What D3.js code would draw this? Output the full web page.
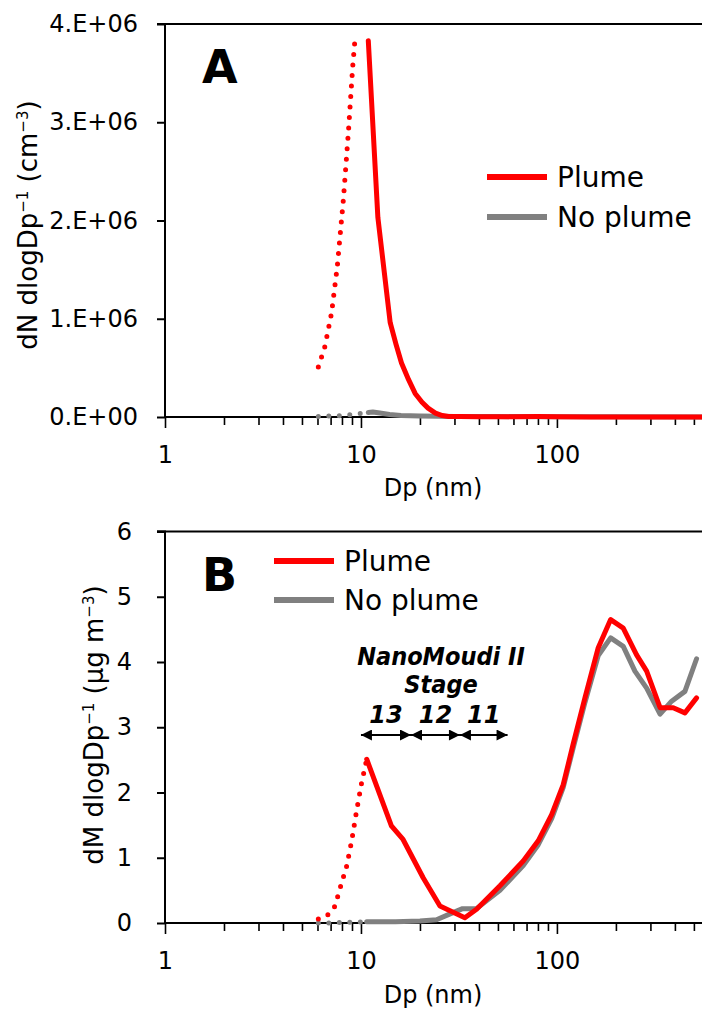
<!DOCTYPE html>
<html><head><meta charset="utf-8">
<script src="https://cdn.jsdelivr.net/npm/d3@7"></script>
<style>
html,body{margin:0;padding:0;background:#fff;}
svg{display:block;}
text{font-family:"DejaVu Sans",Verdana,sans-serif;fill:#000;}
</style></head>
<body>
<svg id="chart" width="702" height="1019"></svg>
<script>
// ---------- DATA ----------
// Panel A: number size distribution (dN/dlogDp, cm^-3)
const aPlumeDp   = [10.9, 12.2, 14.1, 15.1, 16.1, 17.5, 18.9, 20.5, 22.0, 24.0, 26.0, 28.0, 32, 40, 60, 80, 100, 150, 200, 300, 400, 550];
const aPlumeN    = [3.83e6, 2.03e6, 0.96e6, 0.74e6, 0.55e6, 0.38e6, 0.24e6, 0.15e6, 0.09e6, 0.04e6, 0.015e6, 0.006e6, 0.004e6, 0.003e6, 0.003e6, 0.004e6, 0.002e6, 0.001e6, 0.001e6, 0.0005e6, 0, 0];
const aPlumeExtDp = [6.06, 6.55, 7.08, 7.57, 8.13, 8.62, 9.07, 9.31];
const aPlumeExtN  = [0.51e6, 0.72e6, 1.06e6, 1.53e6, 2.21e6, 2.89e6, 3.56e6, 3.83e6];
const aNoPlumeDp = [10.9, 11.5, 12.5, 14, 16, 20, 25, 30, 50, 100, 200, 550];
const aNoPlumeN  = [0.045e6, 0.05e6, 0.04e6, 0.025e6, 0.015e6, 0.01e6, 0.008e6, 0.005e6, 0.004e6, 0.003e6, 0.002e6, 0.001e6];
const aNoPlumeExtDp = [6.06, 7.0, 8.0, 9.0, 10.9];
const aNoPlumeExtN  = [0.005e6, 0.01e6, 0.015e6, 0.025e6, 0.045e6];

// Panel B: mass size distribution (dM/dlogDp, ug m^-3)
const bPlumeDp = [10.7, 14.3, 16.4, 20.8, 25.3, 33.9, 38.9, 51.2, 67.3, 80.3, 94, 107.7, 121, 139, 162.5, 188, 218, 255, 287, 336, 392, 450, 516];
const bPlumeM  = [2.51, 1.49, 1.28, 0.69, 0.26, 0.08, 0.21, 0.57, 0.95, 1.26, 1.66, 2.12, 2.74, 3.45, 4.22, 4.65, 4.52, 4.11, 3.86, 3.30, 3.30, 3.22, 3.45];
const bPlumeExtDp = [6.06, 6.81, 7.37, 7.8, 8.45, 8.97, 9.5, 10.08, 10.7];
const bPlumeExtM  = [0.06, 0.13, 0.26, 0.52, 0.87, 1.26, 1.72, 2.15, 2.51];
const bNoPlumeDp = [10.7, 15, 20, 24.3, 28.5, 33, 38.9, 51.2, 67.3, 80.3, 94, 107.7, 121, 139, 162.5, 188, 218, 250, 287, 336, 385, 450, 516];
const bNoPlumeM  = [0.02, 0.02, 0.03, 0.05, 0.14, 0.22, 0.22, 0.50, 0.88, 1.20, 1.60, 2.08, 2.68, 3.38, 4.10, 4.37, 4.24, 3.86, 3.60, 3.20, 3.40, 3.55, 4.05];
const bNoPlumeExtDp = [6.06, 7.0, 8.0, 9.0, 10.7];
const bNoPlumeExtM  = [0.0, 0.0, 0.01, 0.01, 0.02];

// NanoMoudi II stage cut-points (nm) and labels
const stageEdges  = [10, 18, 32, 56];
const stageLabels = ["13", "12", "11"];

// Axis ticks
const xTickLabels = [1, 10, 100];
const aYTicks = [0, 1e6, 2e6, 3e6, 4e6];
const bYTicks = [0, 1, 2, 3, 4, 5, 6];
const seriesNames = ["Plume", "No plume"];
const seriesColors = ["#ff0000", "#808080"];

// ---------- DRAWING ----------
const svg = d3.select("#chart");
const zip = (xs, ys) => xs.map((x, i) => [x, ys[i]]);
const minorTicks = [];
[1, 10, 100].forEach(d => { for (let k = 1; k <= 9; k++) if (d * k <= 550) minorTicks.push(d * k); });

function panel(cfg) {
  const x = d3.scaleLog().domain([1, 550]).range([165, 702]);
  const y = d3.scaleLinear().domain(cfg.yDomain).range([cfg.y0, cfg.yTop]);
  const g = svg.append("g");

  // top border
  g.append("line").attr("x1", 157).attr("x2", 702)
    .attr("y1", y(cfg.yDomain[1])).attr("y2", y(cfg.yDomain[1]))
    .attr("stroke", "#000").attr("stroke-width", 2);

  // y axis
  const yAx = d3.axisLeft(y).tickValues(cfg.yTicks).tickSize(8).tickPadding(cfg.yPad).tickFormat(cfg.yFmt);
  const ya = g.append("g").attr("transform", `translate(165,0)`).call(yAx);
  ya.select(".domain").attr("stroke-width", 2).attr("d", `M-8,${y(cfg.yDomain[1])}H0V${y(cfg.yDomain[0])}`);
  ya.selectAll(".tick line").attr("stroke-width", 2);
  ya.selectAll("text").style("font-size", "24px").style("font-family", "DejaVu Sans");

  // x axis (minor + major ticks)
  const xAx = d3.axisBottom(x).tickValues(minorTicks).tickSize(8).tickFormat(d => xTickLabels.includes(d) ? d : "").tickPadding(10);
  const xa = g.append("g").attr("transform", `translate(0,${cfg.y0})`).call(xAx);
  xa.select(".domain").attr("stroke-width", 2).attr("d", `M165,0H702`);
  xa.selectAll(".tick line").attr("stroke-width", 1.6).attr("y2", d => xTickLabels.includes(d) ? 11 : 8);
  xa.selectAll("text").style("font-size", "24px").style("font-family", "DejaVu Sans").attr("y", cfg.xLabDy).attr("dy", 0);

  // axis titles
  g.append("text").attr("x", 433).attr("y", cfg.y0 + cfg.xTitleDy).attr("text-anchor", "middle")
    .style("font-size", "24px").text("Dp (nm)");
  const yt = g.append("text").attr("transform", `translate(${cfg.yTitleX},${cfg.yTitleC}) rotate(-90)`)
    .attr("text-anchor", "middle").style("font-size", "26px");
  cfg.yTitle.forEach(p => {
    const t = yt.append("tspan").text(p.t);
    if (p.sup) t.attr("baseline-shift", "super").style("font-size", "15px");
  });

  // panel letter
  g.append("text").attr("x", 202).attr("y", cfg.letterY).style("font-size", "46px")
    .style("font-weight", "bold").text(cfg.letter);

  // series
  const line = d3.line().x(d => x(d[0])).y(d => y(d[1]));
  cfg.series.forEach(s => {
    g.append("path").datum(zip(s.xs, s.ys)).attr("d", line).attr("fill", "none")
      .attr("stroke", s.color).attr("stroke-width", 5)
      .attr("stroke-linejoin", "round")
      .attr("stroke-linecap", "round")
      .attr("stroke-dasharray", s.dotted ? "0 10.5" : null);
  });

  // legend
  seriesNames.forEach((n, i) => {
    const ly = cfg.legY + i * cfg.legGap;
    g.append("line").attr("x1", cfg.legX).attr("x2", cfg.legX + 60).attr("y1", ly).attr("y2", ly)
      .attr("stroke", seriesColors[i]).attr("stroke-width", 6);
    g.append("text").attr("x", cfg.legX + 70).attr("y", ly + 10).style("font-size", "28px").text(n);
  });
  return { x, y, g };
}

const fmtE = d => d === 0 ? "0.E+00" : `${d / 1e6}.E+06`;

panel({
  yDomain: [0, 4e6], y0: 417, yTop: 24, yTicks: aYTicks, yFmt: fmtE, yPad: 19,
  xLabDy: 46, xTitleDy: 79, yTitleX: 37, yTitleC: 225, letter: "A", letterY: 83,
  yTitle: [{t: "dN dlogDp"}, {t: "−1", sup: true}, {t: " (cm"}, {t: "−3", sup: true}, {t: ")"}],
  legX: 487, legY: 177, legGap: 40,
  series: [
    {xs: aNoPlumeExtDp, ys: aNoPlumeExtN, color: seriesColors[1], dotted: true},
    {xs: aNoPlumeDp, ys: aNoPlumeN, color: seriesColors[1]},
    {xs: aPlumeExtDp, ys: aPlumeExtN, color: seriesColors[0], dotted: true},
    {xs: aPlumeDp, ys: aPlumeN, color: seriesColors[0]}
  ]
});

const pB = panel({
  yDomain: [0, 6], y0: 923, yTop: 531.5, yTicks: bYTicks, yFmt: d3.format("d"), yPad: 25,
  xLabDy: 46, xTitleDy: 80, yTitleX: 103, yTitleC: 725, letter: "B", letterY: 591,
  yTitle: [{t: "dM dlogDp"}, {t: "−1", sup: true}, {t: " (µg m"}, {t: "−3", sup: true}, {t: ")"}],
  legX: 274, legY: 561, legGap: 39,
  series: [
    {xs: bNoPlumeExtDp, ys: bNoPlumeExtM, color: seriesColors[1], dotted: true},
    {xs: bNoPlumeDp, ys: bNoPlumeM, color: seriesColors[1]},
    {xs: bPlumeExtDp, ys: bPlumeExtM, color: seriesColors[0], dotted: true},
    {xs: bPlumeDp, ys: bPlumeM, color: seriesColors[0]}
  ]
});

// NanoMoudi annotation
const ann = pB.g.append("g");
const defs = svg.append("defs");
defs.append("marker").attr("id", "ah").attr("viewBox", "0 0 10 10").attr("refX", 10).attr("refY", 5)
  .attr("markerWidth", 5.5).attr("markerHeight", 5).attr("markerUnits", "strokeWidth").attr("orient", "auto-start-reverse")
  .append("path").attr("d", "M0,0L10,5L0,10Z").attr("fill", "#000");
const arrowY = 735;
stageLabels.forEach((lab, i) => {
  const x1 = pB.x(stageEdges[i]), x2 = pB.x(stageEdges[i + 1]);
  ann.append("line").attr("x1", x1).attr("x2", x2).attr("y1", arrowY).attr("y2", arrowY)
    .attr("stroke", "#000").attr("stroke-width", 2.2)
    .attr("marker-start", "url(#ah)").attr("marker-end", "url(#ah)");
  ann.append("text").attr("x", (x1 + x2) / 2).attr("y", 723).attr("text-anchor", "middle")
    .style("font-size", "24px").style("font-weight", "bold").style("font-style", "italic").text(lab);
});
ann.append("text").attr("x", 441).attr("y", 665).attr("text-anchor", "middle")
  .style("font-size", "25px").style("font-weight", "bold").style("font-style", "italic")
  .style("font-stretch", "condensed").text("NanoMoudi II");
ann.append("text").attr("x", 441).attr("y", 693).attr("text-anchor", "middle")
  .style("font-size", "25px").style("font-weight", "bold").style("font-style", "italic")
  .style("font-stretch", "condensed").text("Stage");
</script>
</body></html>
